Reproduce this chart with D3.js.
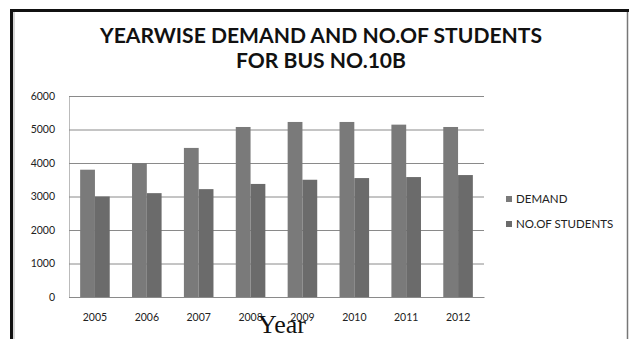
<!DOCTYPE html>
<html>
<head>
<meta charset="utf-8">
<script src="https://cdn.jsdelivr.net/npm/d3@7"></script>
<style>
  html, body { margin: 0; padding: 0; background: #fff; }
  svg { display: block; }
</style>
</head>
<body>
<svg id="chart" width="629" height="339"></svg>
<script>
// Yearwise demand vs. number of students for bus 10B
const years = ["2005", "2006", "2007", "2008", "2009", "2010", "2011", "2012"];
const demand = [3800, 4000, 4450, 5075, 5225, 5225, 5145, 5075];
const students = [3000, 3100, 3220, 3375, 3500, 3550, 3580, 3640];
const seriesNames = ["DEMAND", "NO.OF STUDENTS"];
const yTicks = [0, 1000, 2000, 3000, 4000, 5000, 6000];
const titleLines = ["YEARWISE DEMAND AND NO.OF STUDENTS", "FOR BUS NO.10B"];

const colors = ["#7a7a7a", "#6b6b6b"];
const svg = d3.select("#chart");
const plot = { left: 69, right: 484, top: 96, bottom: 297 };

// Frame around the chart area
svg.append("line").attr("x1", 10).attr("x2", 629).attr("y1", 10.5).attr("y2", 10.5)
  .attr("stroke", "#111").attr("stroke-width", 3);
svg.append("line").attr("x1", 11.5).attr("x2", 11.5).attr("y1", 9).attr("y2", 339)
  .attr("stroke", "#111").attr("stroke-width", 3);
svg.append("line").attr("x1", 14).attr("x2", 14).attr("y1", 12).attr("y2", 339)
  .attr("stroke", "#c8c8c8").attr("stroke-width", 1.5);
svg.append("line").attr("x1", 627.5).attr("x2", 627.5).attr("y1", 12).attr("y2", 339)
  .attr("stroke", "#777").attr("stroke-width", 1.5);

// Title
const titleY = [43, 68];
const titleW = [442, 170];
svg.selectAll("text.title").data(titleLines).enter().append("text")
  .attr("class", "title")
  .attr("x", 321).attr("y", (d, i) => titleY[i])
  .attr("text-anchor", "middle")
  .attr("textLength", (d, i) => titleW[i])
  .attr("lengthAdjust", "spacingAndGlyphs")
  .style("font-family", "Lato, 'Open Sans', sans-serif")
  .style("font-weight", "bold")
  .style("font-size", "21px")
  .attr("fill", "#111")
  .text(d => d);

// Scales
const x = d3.scaleBand().domain(years).range([plot.left, plot.right])
  .paddingInner(0.43).paddingOuter(0.215);
const xs = d3.scaleBand().domain(seriesNames).range([0, x.bandwidth()]);
const y = d3.scaleLinear().domain([0, 6000]).range([plot.bottom, plot.top]);

// Gridlines and y labels
const yAxis = d3.axisLeft(y).tickValues(yTicks).tickFormat(d3.format("d"))
  .tickSize(-(plot.right - plot.left)).tickPadding(14);
const gy = svg.append("g").attr("transform", `translate(${plot.left},0)`).call(yAxis);
gy.select(".domain").attr("stroke", "#bbb");
gy.selectAll(".tick line").attr("stroke", "#8a8a8a");
gy.selectAll(".tick text")
  .style("font-family", "Lato, 'Open Sans', sans-serif")
  .style("font-size", "10.5px")
  .attr("fill", "#222");

// Bars
const rows = years.map((yr, i) => ({ year: yr, vals: [demand[i], students[i]] }));
const groups = svg.append("g").selectAll("g").data(rows).enter().append("g")
  .attr("transform", d => `translate(${x(d.year)},0)`);
groups.selectAll("rect").data(d => d.vals.map((v, k) => ({ name: seriesNames[k], v, k })))
  .enter().append("rect")
  .attr("x", d => xs(d.name))
  .attr("width", xs.bandwidth())
  .attr("y", d => y(d.v))
  .attr("height", d => y(0) - y(d.v))
  .attr("fill", d => colors[d.k]);

// X axis
const xAxis = d3.axisBottom(x).tickSize(0).tickPadding(17);
const gx = svg.append("g").attr("transform", `translate(0,${plot.bottom})`).call(xAxis);
gx.select(".domain").attr("stroke", "#8a8a8a");
gx.selectAll(".tick text")
  .style("font-family", "Lato, 'Open Sans', sans-serif")
  .style("font-size", "10.5px")
  .attr("fill", "#222");

// Axis title
svg.append("text").attr("x", 282).attr("y", 333).attr("text-anchor", "middle")
  .style("font-family", "'Liberation Serif', 'DejaVu Serif', serif")
  .style("font-size", "26px")
  .attr("fill", "#111")
  .text("Year");

// Legend
const legend = svg.append("g").selectAll("g").data(seriesNames).enter().append("g")
  .attr("transform", (d, i) => `translate(506,${199 + i * 25})`);
legend.append("rect").attr("x", 0).attr("y", -3).attr("width", 6).attr("height", 6)
  .attr("fill", (d, i) => colors[i]);
legend.append("text").attr("x", 10).attr("y", 0).attr("dy", "0.35em")
  .style("font-family", "Lato, 'Open Sans', sans-serif")
  .style("font-size", "11.5px")
  .attr("fill", "#222")
  .text(d => d);
</script>
</body>
</html>
